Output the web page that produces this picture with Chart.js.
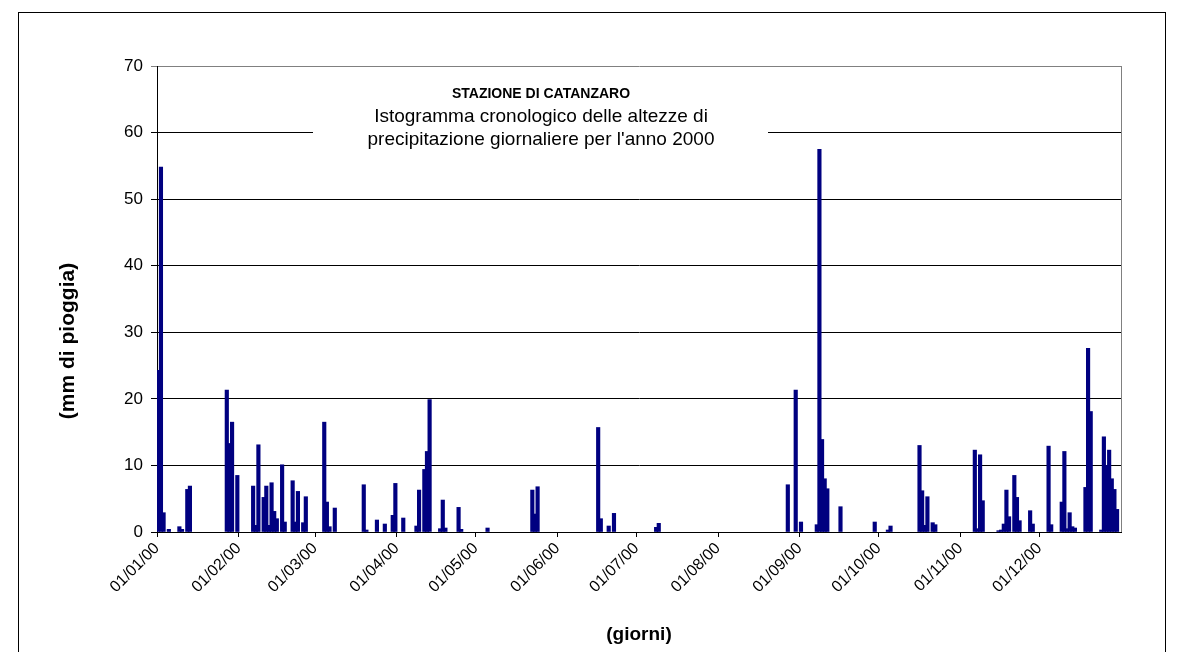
<!DOCTYPE html>
<html>
<head>
<meta charset="utf-8">
<script src="https://cdn.jsdelivr.net/npm/chart.js@4"></script>
<style>
  html, body { margin: 0; padding: 0; background: #fff; }
  canvas { display: block; }
</style>
</head>
<body>
<canvas id="rain" width="1184" height="652"></canvas>
<script>
// day of year (0 = 01/01/00) and daily rainfall in mm
const rainDays = [0, 1, 2, 4, 8, 9, 11, 12, 26, 27, 28, 30, 36, 37, 38, 40, 41, 42, 43, 44, 45, 47, 48, 51, 52, 53, 55, 56,
  63, 64, 65, 67, 78, 79, 83, 86, 89, 90, 93, 98, 99, 101, 102, 103, 107, 108, 109, 114, 115, 125,
  142, 143, 144, 167, 168, 171, 173, 189, 190, 239, 242, 244, 250, 251, 252, 253, 254, 259, 272, 277, 278,
  289, 290, 291, 292, 294, 295, 310, 311, 312, 313, 319, 320, 321, 322, 323, 325, 326, 327, 331, 332,
  338, 339, 343, 344, 345, 346, 347, 348, 352, 353, 354, 358, 359, 360, 361, 362, 363, 364];
const rainMm = [24.3, 54.8, 2.9, 0.4, 0.8, 0.4, 6.4, 6.9, 21.3, 13.3, 16.5, 8.5, 6.9, 1.0, 13.1, 5.2, 6.9, 1.0, 7.4, 3.1, 2.0, 10.1, 1.5, 7.7, 1.5, 6.1, 1.4, 5.3,
  16.5, 4.5, 0.8, 3.6, 7.1, 0.3, 1.8, 1.2, 2.5, 7.3, 2.1, 0.9, 6.3, 9.4, 12.1, 19.9, 0.5, 4.8, 0.6, 3.7, 0.4, 0.6,
  6.3, 2.7, 6.8, 15.7, 2.0, 0.9, 2.8, 0.7, 1.3, 7.1, 21.3, 1.5, 1.1, 57.5, 13.9, 8.0, 6.5, 3.8, 1.5, 0.3, 0.9,
  13.0, 6.2, 1.0, 5.3, 1.4, 1.1, 12.3, 0.5, 11.6, 4.7, 0.2, 0.3, 1.2, 6.3, 2.3, 8.5, 5.2, 1.7, 3.2, 1.2,
  12.9, 1.1, 4.5, 12.1, 0.5, 2.9, 0.8, 0.6, 6.7, 27.6, 18.1, 0.3, 14.3, 10.0, 12.3, 8.0, 6.4, 3.4];

const monthStarts = [0, 31, 60, 91, 121, 152, 182, 213, 244, 274, 305, 335];
const monthLabels = ["01/01/00", "01/02/00", "01/03/00", "01/04/00", "01/05/00", "01/06/00",
  "01/07/00", "01/08/00", "01/09/00", "01/10/00", "01/11/00", "01/12/00"];
const yTicks = [0, 10, 20, 30, 40, 50, 60, 70];

const titleLines = ["STAZIONE DI CATANZARO", "Istogramma cronologico delle altezze di", "precipitazione giornaliere per l'anno 2000"];
const yTitle = "(mm di pioggia)";

const FONT = "'Liberation Sans', Arial, sans-serif";

// frame, grey plot border, title box and y axis title
const decor = {
  id: "decor",
  afterDraw(chart) {
    const { ctx, chartArea: a } = chart;
    ctx.save();
    ctx.strokeStyle = "#808080";
    ctx.lineWidth = 1;
    ctx.beginPath();
    ctx.moveTo(a.right + 0.5, a.top);
    ctx.lineTo(a.right + 0.5, a.bottom);
    ctx.stroke();

    ctx.fillStyle = "#fff";
    ctx.fillRect(313, a.top + 1, 455, 95);
    ctx.fillStyle = "#000";
    ctx.textAlign = "center";
    ctx.textBaseline = "middle";
    ctx.font = "bold 14px " + FONT;
    ctx.fillText(titleLines[0], 541, 94);
    ctx.font = "19px " + FONT;
    ctx.fillText(titleLines[1], 541, 117);
    ctx.fillText(titleLines[2], 541, 140);

    ctx.translate(68, 341);
    ctx.rotate(-Math.PI / 2);
    ctx.font = "bold 21px " + FONT;
    ctx.fillText(yTitle, 0, 0);
    ctx.setTransform(1, 0, 0, 1, 0, 0);

    ctx.strokeStyle = "#000";
    ctx.strokeRect(18.5, 12.5, 1147, 700);
    ctx.restore();
  }
};

new Chart(document.getElementById("rain"), {
  type: "bar",
  data: {
    datasets: [{
      data: rainDays.map((d, i) => ({ x: d + 0.5, y: rainMm[i] })),
      backgroundColor: "#000080",
      borderWidth: 0,
      barThickness: 3.5
    }]
  },
  options: {
    responsive: false,
    animation: false,
    devicePixelRatio: 1,
    layout: { padding: { left: 18, top: 66, right: 63, bottom: 0 } },
    plugins: { legend: { display: false }, tooltip: { enabled: false } },
    scales: {
      x: {
        type: "linear",
        min: 0,
        max: 366,
        offset: false,
        afterFit: (s) => { s.height = 120; },
        afterBuildTicks: (s) => { s.ticks = monthStarts.map((v) => ({ value: v })); },
        ticks: {
          autoSkip: false,
          minRotation: 45,
          maxRotation: 45,
          padding: 2,
          color: "#000",
          font: { family: FONT, size: 16 },
          callback: (v, i) => monthLabels[i]
        },
        grid: { offset: false, drawOnChartArea: false, drawTicks: true, tickLength: 5, color: "#000" },
        border: { color: "#000" },
        title: {
          display: true,
          text: "(giorni)",
          color: "#000",
          font: { family: FONT, size: 19, weight: "bold" },
          padding: { top: 0, bottom: 6 }
        }
      },
      y: {
        min: 0,
        max: 70,
        afterFit: (s) => { s.width = 139; },
        afterBuildTicks: (s) => { s.ticks = yTicks.map((v) => ({ value: v })); },
        ticks: {
          padding: 8,
          color: "#000",
          font: { family: FONT, size: 17 }
        },
        grid: {
          offset: false,
          tickLength: 6,
          color: (c) => (c.tick && c.tick.value === 70 ? "#808080" : "#000")
        },
        border: { color: "#000" }
      }
    }
  },
  plugins: [decor]
});
</script>
</body>
</html>
